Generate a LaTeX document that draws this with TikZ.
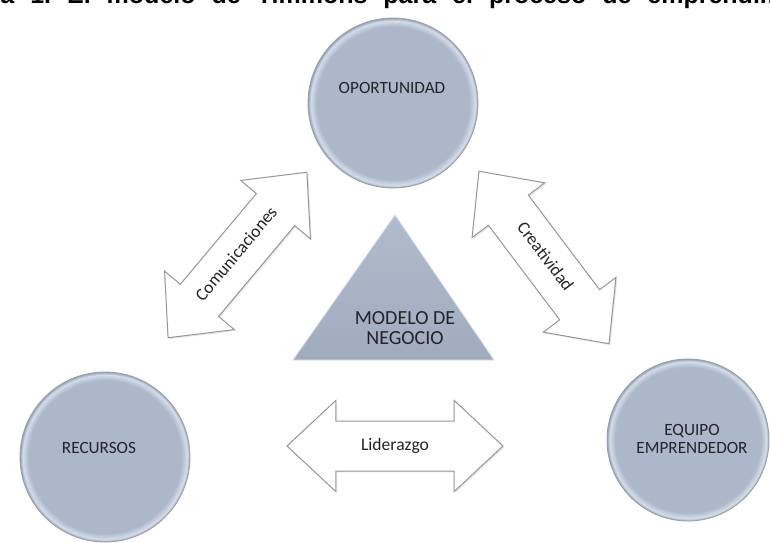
\documentclass[tikz,border=0pt]{standalone}
\usepackage{fontspec}
\setmainfont{Carlito}
\newfontfamily\titlefont{Liberation Sans}
\usetikzlibrary{shapes.arrows, shadows}
\definecolor{circfill}{RGB}{172,184,202}
\definecolor{circrim}{RGB}{212,221,233}
\definecolor{circedge}{RGB}{150,160,176}
\definecolor{trifill}{RGB}{160,172,190}
\definecolor{tritop}{RGB}{176,187,203}
\definecolor{arrowline}{RGB}{150,150,150}
\definecolor{labeltext}{RGB}{35,35,40}
\pgfdeclareradialshading{bevel}{\pgfpoint{0bp}{0bp}}{color(0bp)=(circfill); color(22.5bp)=(circfill); color(24.2bp)=(circrim); color(25bp)=(circedge); color(50bp)=(circedge)}
\tikzset{
  circnode/.style={circle, shading=bevel, draw=circedge, line width=0.4pt, minimum size=85pt, inner sep=0pt},
  lbl/.style={text=labeltext, font=\fontsize{8.6}{9}\selectfont, align=center},
  bigarrow/.style={double arrow, draw=arrowline, fill=white, line width=0.5pt,
    minimum height=108pt, minimum width=45pt, double arrow head extend=10.25pt,
    double arrow tip angle=86, inner xsep=0pt, inner ysep=8.25pt,
    text height=6pt, text depth=2pt, text=labeltext,
    font=\fontsize{8.8}{9}\selectfont,
    drop shadow={shadow xshift=0.7pt, shadow yshift=-0.7pt, opacity=0.18}}
}
\begin{document}
\begin{tikzpicture}[x=0.5pt, y=-0.5pt]
    \useasboundingbox (0,0) rectangle (770,542);
    \fill[white] (0,0) rectangle (770,542);

    % Title (cut at the top edge)
    \node (titulo) [anchor=base west, inner sep=0pt, font=\titlefont\bfseries\fontsize{12.5}{12.5}\selectfont\frenchspacing] at (-62.5,3.5) {\makebox[452pt][s]{Figura 1. El modelo de Timmons para el proceso de emprendimiento}};

    % Circles
    \node (opor) [circnode] at (393,103) {};
    \node (recu) [circnode] at (105,457) {};
    \node (equi) [circnode, minimum size=81pt] at (688,440) {};
    \node (opor-t) [lbl] at (392,88) {OPORTUNIDAD};
    \node (recu-t) [lbl] at (99,448) {RECURSOS};
    \node (equi-t) [lbl] at (692,439) {EQUIPO\\EMPRENDEDOR};

    % Business model triangle
    \coordinate (tri-top) at (395,215);
    \coordinate (tri-l) at (293,360);
    \coordinate (tri-r) at (494,360);
    \path[top color=tritop, bottom color=trifill, draw=circrim, line width=0.4pt] (tri-top) -- (tri-l) -- (tri-r) -- cycle;
    \node (modelo) [lbl, font=\fontsize{10}{10}\selectfont] at (405,328) {MODELO DE\\NEGOCIO};

    % Double arrows
    \node (comu) [bigarrow, rotate=50] at (237.5,255) {Comunicaciones};
    \node (crea) [bigarrow, rotate=-53] at (544,257.5) {Creatividad};
    \node (lide) [bigarrow] at (395,446) {Liderazgo};

\end{tikzpicture}
\end{document}
